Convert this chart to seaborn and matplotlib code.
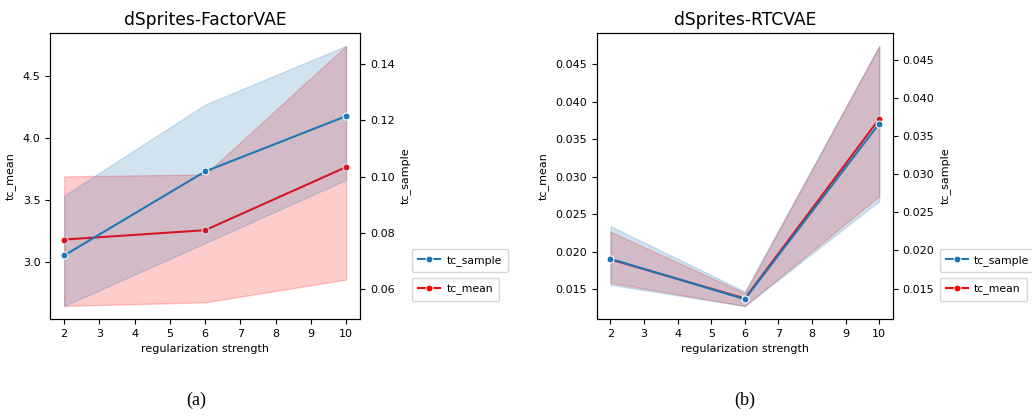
import matplotlib
matplotlib.use("Agg")
import matplotlib.pyplot as plt
import seaborn as sns
import pandas as pd

plt.rcParams['font.family'] = ['DejaVu Sans']

reg = [2, 6, 10]

# (a) dSprites-FactorVAE
fv_sample_mid = [0.0719, 0.1018, 0.1215]
fv_sample_low = [0.0539, 0.0763, 0.0988]
fv_sample_high = [0.0932, 0.1256, 0.1465]
fv_mean_mid = [3.178, 3.254, 3.765]
fv_mean_low = [2.64, 2.67, 2.854]
fv_mean_high = [3.69, 3.705, 4.746]

# (b) dSprites-RTCVAE
rt_sample_mid = [0.0189, 0.0136, 0.0367]
rt_sample_low = [0.0155, 0.0127, 0.0265]
rt_sample_high = [0.0232, 0.0146, 0.0469]
rt_mean_mid = [0.0190, 0.0138, 0.0377]
rt_mean_low = [0.0159, 0.0128, 0.0274]
rt_mean_high = [0.0227, 0.0145, 0.0474]

titles = ["dSprites-FactorVAE", "dSprites-RTCVAE"]
captions = ["(a)", "(b)"]


def long_df(low, mid, high):
    rows = []
    for x, lo, md, hi in zip(reg, low, mid, high):
        for v in (lo, md, hi):
            rows.append({"reg": x, "val": v})
    return pd.DataFrame(rows)


fig = plt.figure(figsize=(10.32, 4.17), dpi=100)
ax_rects = [[0.0485, 0.235, 0.3005, 0.686], [0.5785, 0.235, 0.2865, 0.686]]
panels = [
    (fv_mean_low, fv_mean_mid, fv_mean_high, fv_sample_low, fv_sample_mid, fv_sample_high),
    (rt_mean_low, rt_mean_mid, rt_mean_high, rt_sample_low, rt_sample_mid, rt_sample_high),
]
cap_x = [0.19, 0.722]
leg_x = [1.168, 1.16]

for i, (rect, p) in enumerate(zip(ax_rects, panels)):
    ax = fig.add_axes(rect)
    ax2 = ax.twinx()
    sns.lineplot(data=long_df(p[0], p[1], p[2]), x="reg", y="val", estimator="median",
                 errorbar=("pi", 100), marker="o", markersize=5, color="red",
                 label="tc_mean", ax=ax)
    sns.lineplot(data=long_df(p[3], p[4], p[5]), x="reg", y="val", estimator="median",
                 errorbar=("pi", 100), marker="o", markersize=5, color="#1f77b4",
                 label="tc_sample", ax=ax2)
    ax.set_xticks(range(2, 11))
    ax.set_xlabel("regularization strength", fontsize=8)
    ax.set_ylabel("tc_mean", fontsize=8)
    ax2.set_ylabel("tc_sample", fontsize=8)
    ax.set_title(titles[i], fontsize=12.3)
    for a in (ax, ax2):
        a.tick_params(labelsize=8)
    legkw = dict(loc="upper left", borderaxespad=0, fontsize=7.8, borderpad=0.55,
                 handletextpad=0.6)
    ax2.legend(bbox_to_anchor=(leg_x[i], 0.245), **legkw)
    ax.legend(bbox_to_anchor=(leg_x[i], 0.143), **legkw)
    fig.text(cap_x[i], 0.041, captions[i], family="Liberation Serif", fontsize=13,
             ha="center", va="center")

fig.savefig("out.png", dpi=100)
